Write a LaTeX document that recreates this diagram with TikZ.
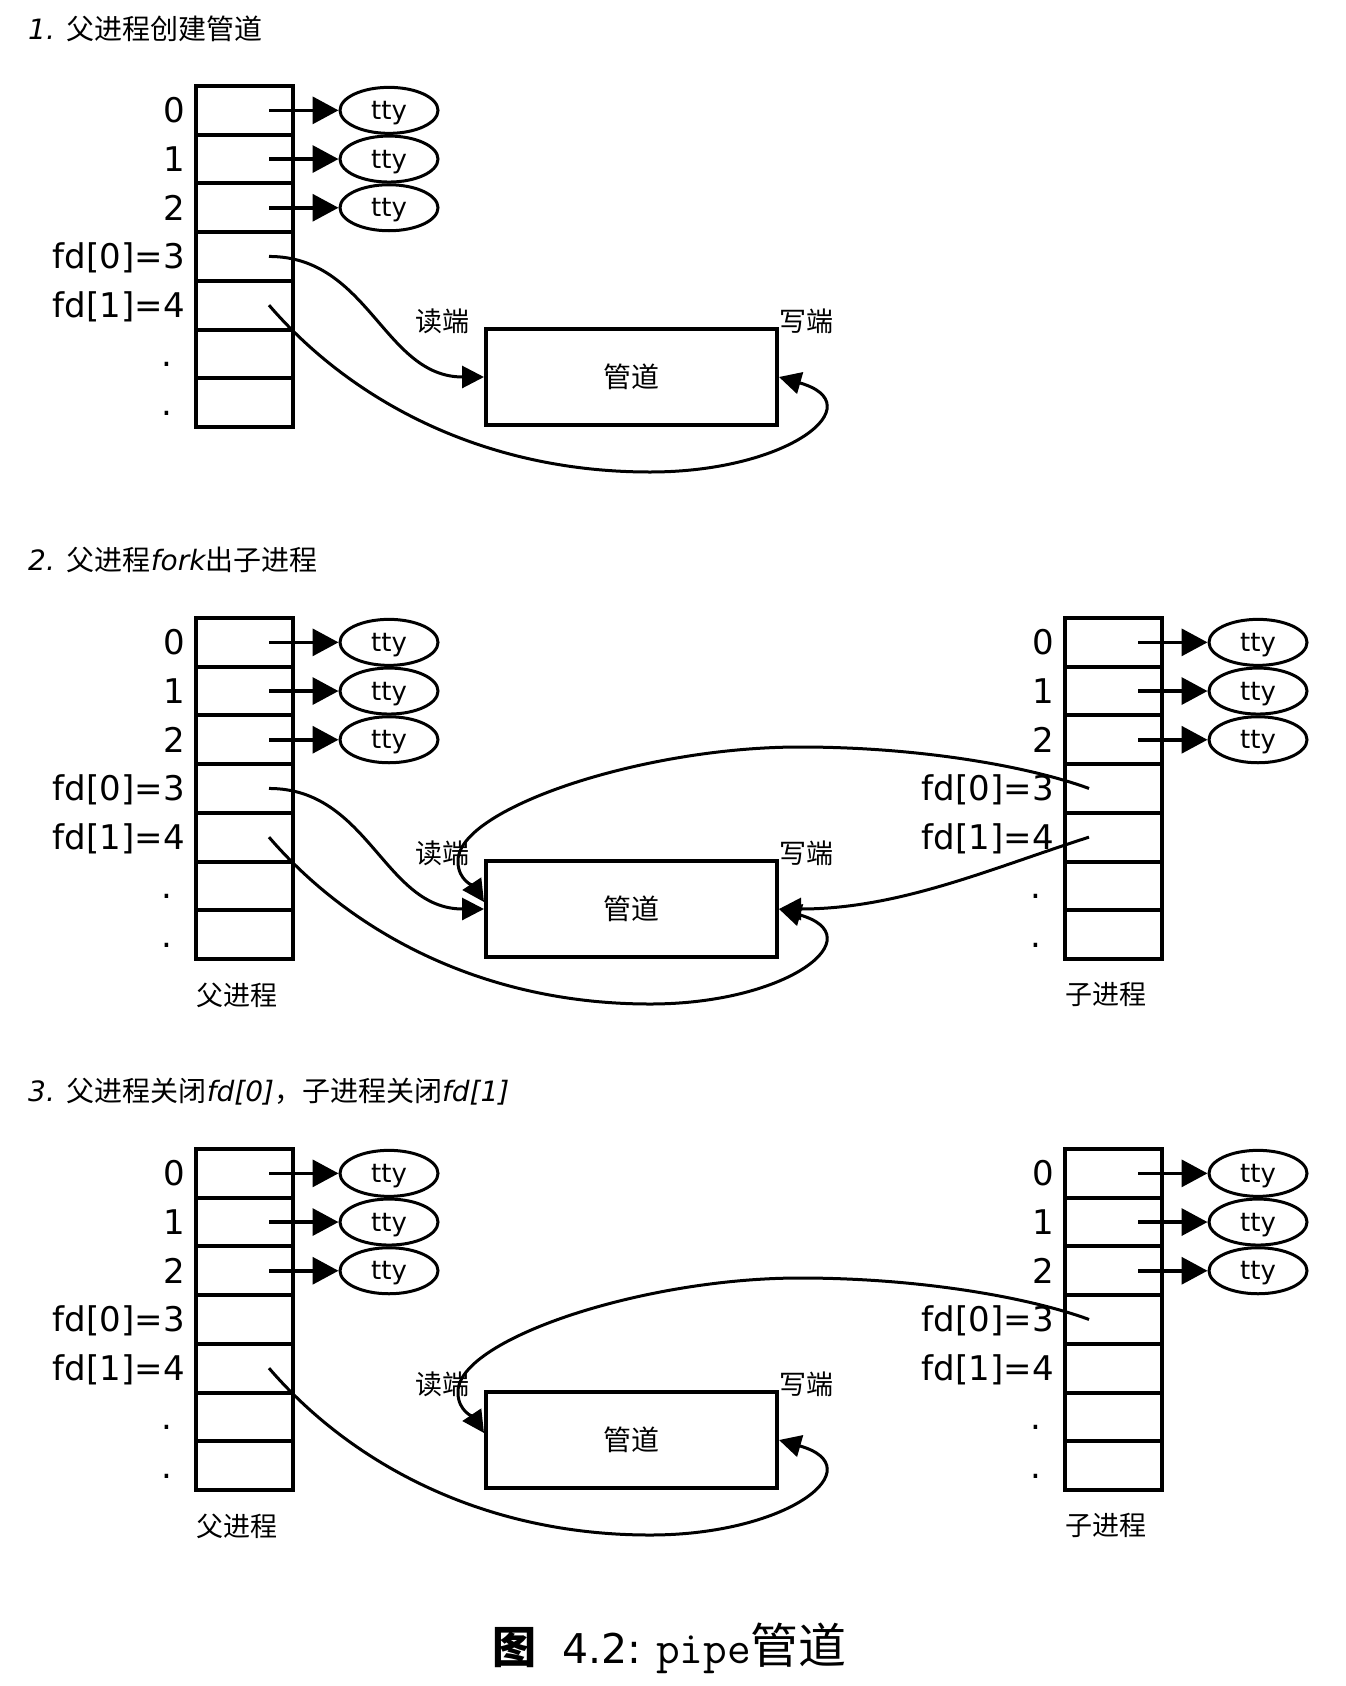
\documentclass[tikz,border=0pt]{standalone}
\usepackage{fontspec}
\setmainfont{DejaVu Sans}
\newfontfamily\cjk{Noto Sans CJK SC}
\usetikzlibrary{arrows.meta,shapes.geometric}

\newcommand\fsz[1]{\fontsize{#1}{#1}\selectfont}

\tikzset{
  cell/.style={draw, line width=4pt, minimum width=97pt, minimum height=48.7pt, inner sep=0pt, outer sep=0pt},
  ttynode/.style={draw, ellipse, line width=3pt, minimum width=98pt, minimum height=46pt, inner sep=0pt, text depth=0pt, font=\fsz{26}},
  fdlbl/.style={inner sep=0pt, font=\fsz{34}},
  ttyarrow/.style={line width=3.5pt, -{Triangle[length=26pt,width=27pt]}},
  pipearrow/.style={line width=3pt, -{Triangle[length=22pt,width=22pt]}},
  pipebox/.style={draw, line width=4pt, minimum width=291pt, minimum height=96pt, inner sep=0pt, font=\cjk\fsz{28}},
  cjklbl/.style={inner sep=0pt, font=\cjk\fsz{27}},
  titlenode/.style={inner sep=0pt, anchor=west, font=\fsz{28}},
}

% #1 name prefix, #2 left x, #3 top y, #4 caption under table (may be empty)
\newcommand\fdtable[4]{%
  \foreach \k in {0,...,6}{\node[cell] (#1c\k) at ({#2+48.5},{#3+24.35+48.7*\k}) {};}
  \node[fdlbl,anchor=base east] (#1l0) at ([xshift=-11pt,yshift=-12.5pt]#1c0.west) {0};
  \node[fdlbl,anchor=base east] (#1l1) at ([xshift=-11pt,yshift=-12.5pt]#1c1.west) {1};
  \node[fdlbl,anchor=base east] (#1l2) at ([xshift=-11pt,yshift=-12.5pt]#1c2.west) {2};
  \node[fdlbl,anchor=base east] (#1l3) at ([xshift=-11pt,yshift=-12.5pt]#1c3.west) {fd[0]=3};
  \node[fdlbl,anchor=base east] (#1l4) at ([xshift=-11pt,yshift=-12.5pt]#1c4.west) {fd[1]=4};
  \node[fdlbl,anchor=base] (#1l5) at ([xshift=-29pt,yshift=-12.5pt]#1c5.west) {.};
  \node[fdlbl,anchor=base] (#1l6) at ([xshift=-29pt,yshift=-12.5pt]#1c6.west) {.};
  \foreach \k in {0,1,2}{
    \node[ttynode] (#1t\k) at ([xshift=193pt]#1c\k.west) {tty};
    \draw[ttyarrow] ([xshift=24.5pt]#1c\k.center) -- (#1t\k);
  }
  \node[cjklbl,anchor=west] (#1name) at ([yshift=-36pt]#1c6.south west) {#4};
}

% #1 suffix, #2 centre y
\newcommand\pipeat[2]{%
  \node[pipebox] (pipe#1) at (631.5,#2) {管道};
  \node[cjklbl] (rd#1) at ([xshift=-42pt,yshift=6pt]pipe#1.north west) {读端};
  \node[cjklbl] (wr#1) at ([xshift=27pt,yshift=6pt]pipe#1.north east) {写端};
}

\begin{document}
\begin{tikzpicture}[x=1pt,y=-1pt]
\fill[white] (0,0) rectangle (1346,1686);
\useasboundingbox (0,0) rectangle (1346,1686);

% ---------- panel 1 ----------
\node[titlenode] (t1) at (28,28.5) {{\itshape 1.} {\cjk 父进程创建管道}};
\fdtable{pa}{196}{86}{}
\pipeat{1}{377}
\draw[pipearrow] ([xshift=24.5pt]pac3.center) .. controls +(100,0) and +(-100,0) .. (pipe1.west);
\coordinate (w1) at ([xshift=18.5pt,yshift=-95pt]pipe1.center);
\draw[pipearrow] ([xshift=24.5pt]pac4.center) .. controls +(80,93) and +(-170,0) .. (w1) .. controls +(140,0) and +(95,27) .. (pipe1.east);

% ---------- panel 2 ----------
\node[titlenode] (t2) at (28,560) {{\itshape 2.} {\cjk 父进程}{\itshape fork}{\cjk 出子进程}};
\fdtable{pb}{196}{618}{父进程}
\fdtable{kb}{1065}{618}{子进程}
\pipeat{2}{909}
\draw[pipearrow] ([xshift=24.5pt]pbc3.center) .. controls +(100,0) and +(-100,0) .. (pipe2.west);
\coordinate (w2) at ([xshift=18.5pt,yshift=-95pt]pipe2.center);
\draw[pipearrow] ([xshift=24.5pt]pbc4.center) .. controls +(80,93) and +(-170,0) .. (w2) .. controls +(140,0) and +(95,27) .. (pipe2.east);
\coordinate (cr2) at ([xshift=168.5pt,yshift=162pt]pipe2.center);
\coordinate (wp2) at ([xshift=-173.5pt,yshift=47pt]pipe2.center);
\coordinate (ti2) at ([yshift=7pt]pipe2.west);
\draw[pipearrow] ([xshift=-24.5pt]kbc3.center) .. controls +(-60,-22) and +(120,0) .. (cr2) .. controls +(-160,0) and +(-3,-52) .. (wp2) .. controls +(0,18) and +(-10,-15) .. (ti2);
\draw[pipearrow] ([xshift=-24.5pt]kbc4.center) .. controls +(-100,32) and +(120,0) .. (pipe2.east);

% ---------- panel 3 ----------
\node[titlenode] (t3) at (28,1092) {{\itshape 3.} {\cjk 父进程关闭}{\itshape fd[0]}{\cjk ，子进程关闭}{\itshape fd[1]}};
\fdtable{pc}{196}{1149}{父进程}
\fdtable{kc}{1065}{1149}{子进程}
\pipeat{3}{1440}
\coordinate (w3) at ([xshift=18.5pt,yshift=-95pt]pipe3.center);
\draw[pipearrow] ([xshift=24.5pt]pcc4.center) .. controls +(80,93) and +(-170,0) .. (w3) .. controls +(140,0) and +(95,27) .. (pipe3.east);
\coordinate (cr3) at ([xshift=168.5pt,yshift=162pt]pipe3.center);
\coordinate (wp3) at ([xshift=-173.5pt,yshift=47pt]pipe3.center);
\coordinate (ti3) at ([yshift=7pt]pipe3.west);
\draw[pipearrow] ([xshift=-24.5pt]kcc3.center) .. controls +(-60,-22) and +(120,0) .. (cr3) .. controls +(-160,0) and +(-3,-52) .. (wp3) .. controls +(0,18) and +(-10,-15) .. (ti3);

% ---------- caption ----------
\node[inner sep=0pt, anchor=base west] (cap) at (492,1663) {{\cjk\bfseries\fsz{44}图}\hspace{26pt}{\fsz{41}4.2:}\hspace{15pt}{\ttfamily\fsz{46}pipe}{\cjk\fsz{48}管道}};
\end{tikzpicture}
\end{document}
